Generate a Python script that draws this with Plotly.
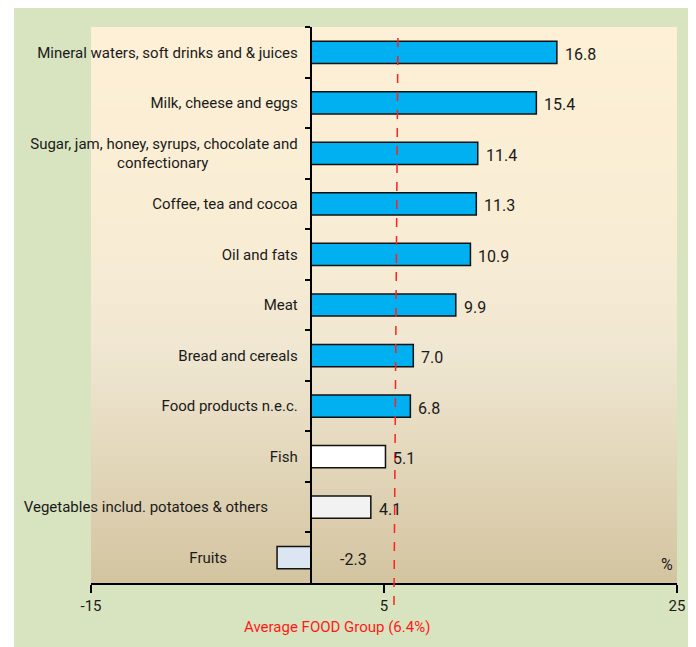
import plotly.graph_objects as go

NB = "\u00a0"
categories = [
    "Mineral waters, soft drinks and & juices",
    "Milk, cheese and eggs",
    "Sugar, jam, honey, syrups, chocolate and<br>confectionary" + NB * 24,
    "Coffee, tea and cocoa",
    "Oil and fats",
    "Meat",
    "Bread and cereals",
    "Food products n.e.c.",
    "Fish",
    "Vegetables includ. potatoes & others" + NB * 8,
    "Fruits" + NB * 19,
]
values = [16.8, 15.4, 11.4, 11.3, 10.9, 9.9, 7.0, 6.8, 5.1, 4.1, -2.3]
value_labels = ["16.8", "15.4", "11.4", "11.3", "10.9", "9.9", "7.0", "6.8", "5.1", "4.1", "-2.3"]
x_ticks = [-15, 5, 25]
x_tick_labels = ["-15", "5", "25"]
avg_label = "Average FOOD Group (6.4%)"
avg_line_x = [5.68, 5.95]  # drawn marker position (bottom, top)

bar_colors = ["#00b0f0"] * 8 + ["#ffffff", "#f2f2f2", "#dce6f2"]

FONT = "Roboto, Liberation Sans, Arial, sans-serif"

# page has an 8px body margin; work in reference-pixel coordinates and shift
OFF = 8
W, H = 696 - OFF, 647 - OFF
L, R, T, B = 91 - OFF, W - (677 - OFF), 27 - OFF, H - (583 - OFF)
pw, ph = W - L - R, H - T - B


def px(x):
    return (x - OFF - L) / pw


def py(y):
    return (H - B - (y - OFF)) / ph


fig = go.Figure()
fig.add_trace(go.Bar(
    x=values, y=categories, orientation="h",
    marker=dict(color=bar_colors, line=dict(color="#111111", width=1.5)),
    width=0.44, hoverinfo="x", showlegend=False,
))

annotations = []
for c, v, t in zip(categories, values, value_labels):
    annotations.append(dict(
        x=max(v, 0), y=c, xref="x", yref="y", text=t, showarrow=False,
        xanchor="left", yanchor="middle", xshift=6 if v >= 0 else 27, yshift=-2,
        font=dict(family=FONT, size=16, color="#1a1a1a"),
    ))
annotations.append(dict(
    x=px(337), y=py(627), xref="paper", yref="paper",
    text=avg_label, showarrow=False, xanchor="center", yanchor="middle",
    font=dict(family=FONT, size=15, color="#ff1a1a"),
))
annotations.append(dict(
    x=px(667), y=py(564), xref="paper", yref="paper",
    text="%", showarrow=False, xanchor="center", yanchor="middle",
    font=dict(family=FONT, size=16, color="#1a1a1a"),
))

shapes = []
# outer green panel
shapes.append(dict(
    type="rect", xref="paper", yref="paper", layer="below",
    x0=px(14), x1=px(690), y0=py(660), y1=py(0),
    fillcolor="#d8e4c0", line=dict(width=0),
))

# vertical gradient of plot area
stops = [(0.0, (253, 240, 214)), (0.40, (248, 236, 212)), (0.58, (240, 231, 210)),
         (0.78, (227, 215, 187)), (1.0, (212, 196, 160))]


def col_at(f):
    for (a, ca), (b, cb) in zip(stops[:-1], stops[1:]):
        if a <= f <= b:
            t = (f - a) / (b - a)
            return "rgb(%d,%d,%d)" % tuple(round(ca[i] + (cb[i] - ca[i]) * t) for i in range(3))
    return "rgb(%d,%d,%d)" % stops[-1][1]


N = 70
for i in range(N):
    f = (i + 0.5) / N  # from top
    shapes.append(dict(
        type="rect", xref="x domain", yref="y domain", layer="below",
        x0=0, x1=1, y0=1 - (i + 1) / N - 0.002, y1=1 - i / N,
        fillcolor=col_at(f), line=dict(width=0),
    ))

# average dashed line
shapes.append(dict(
    type="line", xref="x", yref="paper",
    x0=avg_line_x[0], x1=avg_line_x[1], y0=py(605), y1=py(38),
    line=dict(color="#ff2020", width=1.5, dash="dash"),
))

fig.update_layout(
    width=W, height=H,
    margin=dict(l=L, r=R, t=T, b=B, autoexpand=False),
    paper_bgcolor="#ffffff",
    plot_bgcolor="#fdf0d6",
    font=dict(family=FONT, size=16, color="#1a1a1a"),
    xaxis=dict(
        range=[-15, 25], tickvals=x_ticks, ticktext=x_tick_labels,
        showgrid=False, zeroline=False,
        showline=True, linecolor="#000000", linewidth=2,
        ticks="outside", ticklen=8, tickwidth=1.5, tickcolor="#000000",
        tickfont=dict(family=FONT, size=15, color="#1a1a1a"),
        fixedrange=True,
    ),
    yaxis=dict(
        categoryorder="array", categoryarray=categories,
        range=[10.5, -0.5],
        anchor="free", position=15 / 40,
        showgrid=False, zeroline=False,
        showline=True, linecolor="#000000", linewidth=2,
        ticks="outside", tickson="boundaries", ticklen=5, tickwidth=1.5, tickcolor="#000000",
        ticklabelstandoff=9,
        tickfont=dict(family=FONT, size=15, color="#1a1a1a"),
        automargin=False, fixedrange=True,
    ),
    shapes=shapes,
    annotations=annotations,
    bargap=0.5,
)

fig.write_html("out.html")
